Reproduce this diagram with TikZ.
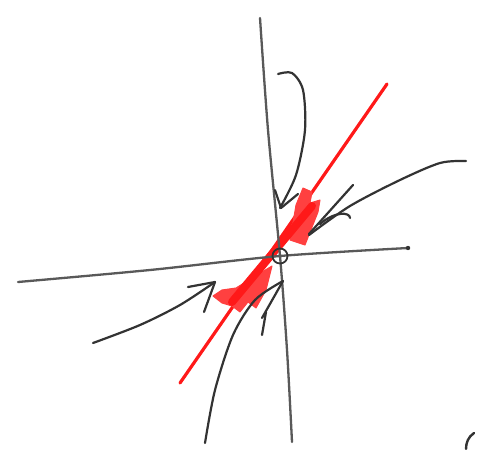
\documentclass[tikz,border=0pt]{standalone}
\begin{document}
\begin{tikzpicture}[x=1pt,y=-1pt,
  pen/.style={draw=black!80,line width=2.2pt,line cap=round,line join=round},
  axis/.style={draw=black!65,line width=2.3pt,line cap=round},
  redpen/.style={draw=red!90!white,line width=3.2pt,line cap=round},
  redfill/.style={fill=red!75!white,draw=red!75!white,line width=1pt,line join=round}]
\useasboundingbox (0,0) rectangle (478,449);
\fill[white] (0,0) rectangle (478,449);
\coordinate (O) at (280,256);
% red line and blobs
\draw[redpen] (180,383) -- (387,84);
\filldraw[redfill] (290,240) -- (296,205) -- (303,188) -- (312,192) -- (310,203) -- (320,200) -- (318,212) -- (305,245) -- cycle;
\filldraw[redfill] (272,266) -- (266,290) -- (256,308) -- (248,302) -- (240,312) -- (232,306) -- (222,303) -- (213,296) -- (222,290) -- (236,288) -- (252,278) -- cycle;
\draw[redpen,line width=8pt] (232,302) -- (312,206);
% axes
\draw[axis] plot[smooth] coordinates {(260,18) (268,130) (280,256) (287,350) (292,442)};
\draw[axis] plot[smooth] coordinates {(18,282) (150,270) (280,256) (408,248)};
\fill[black!80] (408,248) circle (2.2);
\draw[pen,line width=1.8pt] (O) circle (7.5);
% top hook arrow
\draw[pen] plot[smooth] coordinates {(278,74) (292,73) (303,90) (305,130) (296,175) (280,208)};
\draw[pen] (298,194) -- (281,208) -- (275,190);
% right arrow
\draw[pen] plot[smooth] coordinates {(466,161) (440,163) (400,180) (350,206) (309,235)};
\draw[pen] (353,185) -- (309,234);
\draw[pen] (350,218) .. controls (350,212) and (335,211) .. (320,224);
% left arrow
\draw[pen] plot[smooth] coordinates {(93,343) (140,325) (180,305) (215,282)};
\draw[pen] (188,287) -- (215,282) -- (204,312);
% bottom arrow
\draw[pen] plot[smooth] coordinates {(205,443) (215,390) (233,335) (255,300) (283,281)};
\draw[pen] (262,318) -- (283,281);
\draw[pen] (262,335) -- (266,312);
% stray mark bottom right
\draw[pen,line width=2.4pt] (474,433) .. controls (468,437) and (466,443) .. (466,449);
\end{tikzpicture}
\end{document}
